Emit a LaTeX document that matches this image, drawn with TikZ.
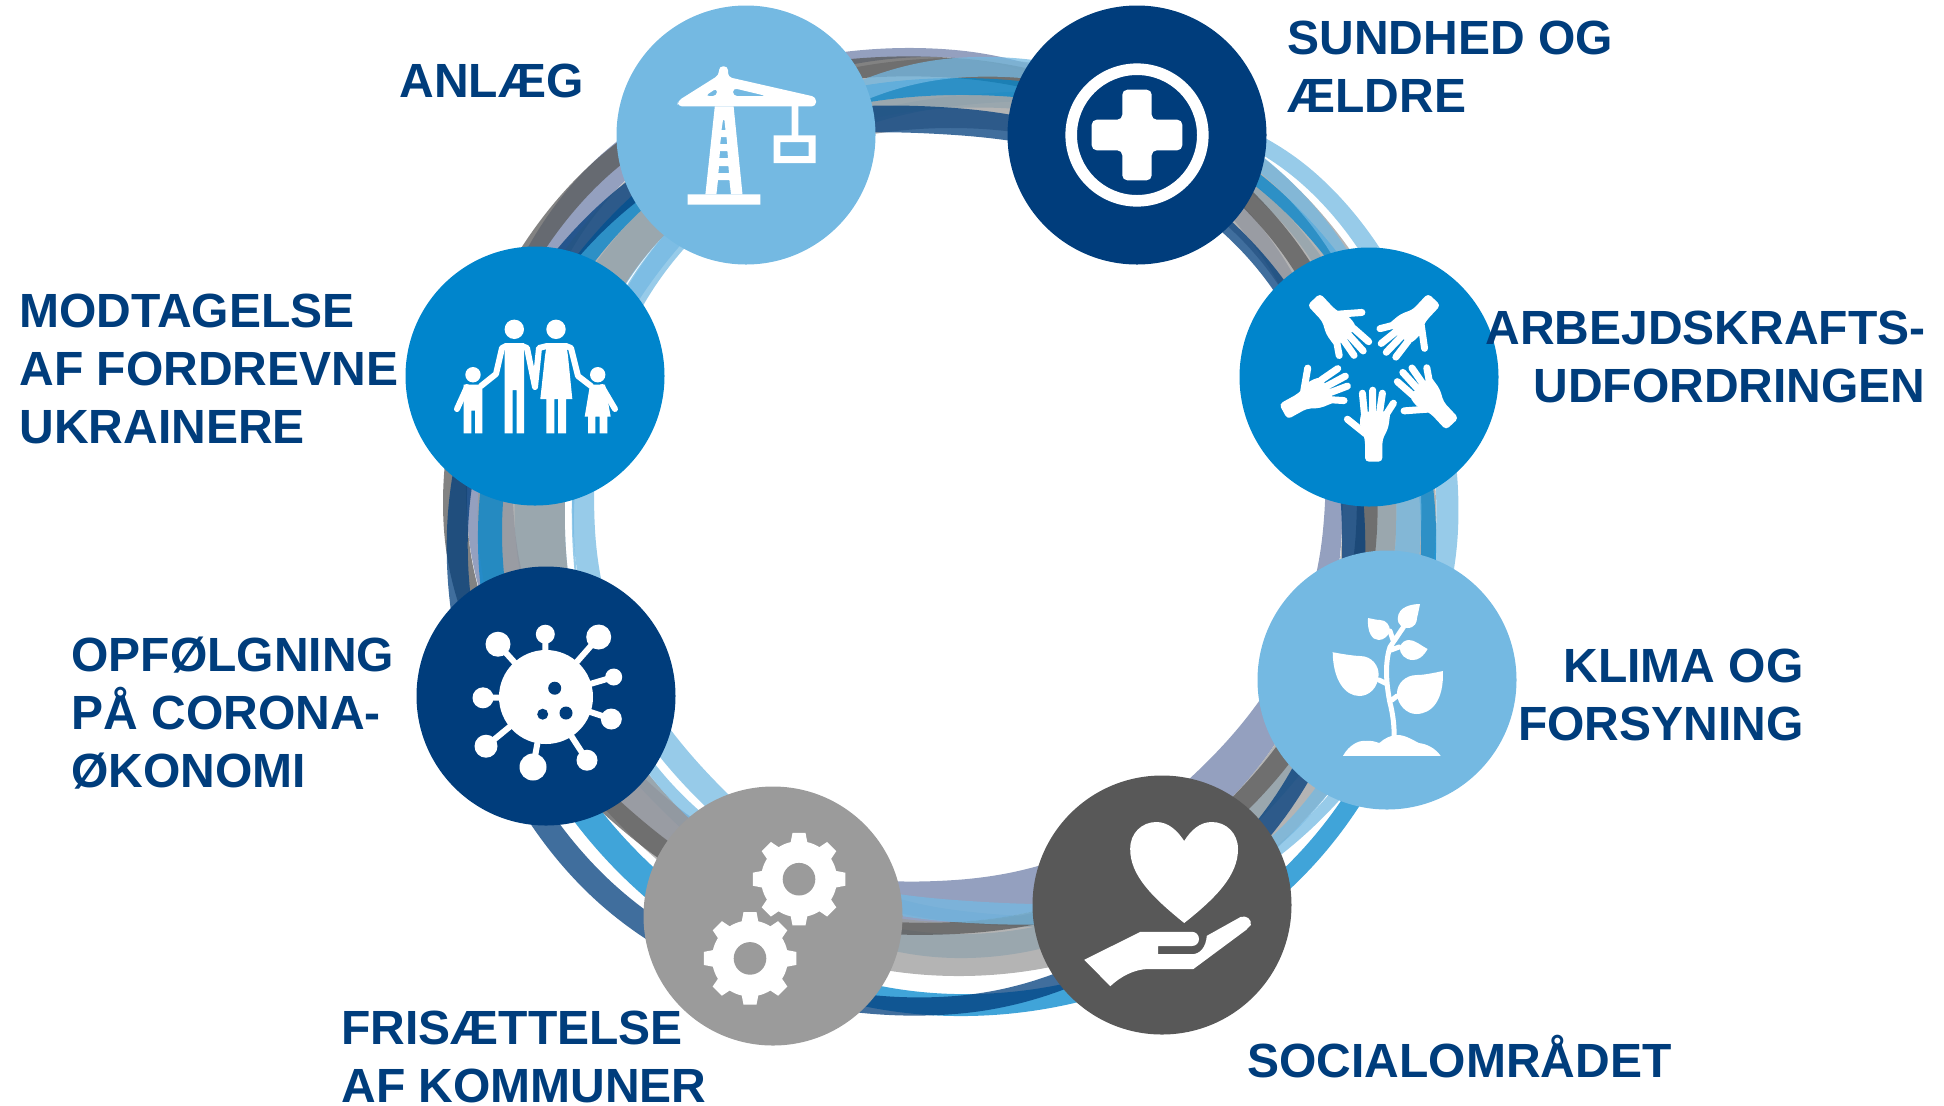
\documentclass[tikz,border=0pt]{standalone}
\usepackage{fontspec}
\setmainfont{Liberation Sans}
\definecolor{navy}{HTML}{003D7C}
\definecolor{midblue}{HTML}{0085CC}
\definecolor{skyblue}{HTML}{74B9E2}
\definecolor{darkgrey}{HTML}{585858}
\definecolor{midgrey}{HTML}{9B9B9B}
\definecolor{dusk}{HTML}{7080A9}
\tikzset{
  hub/.style={circle, minimum size=129.5pt, inner sep=0pt},
  band/.style={fill=#1, fill opacity=.75, even odd rule},
  topic/.style={text=navy, inner sep=0pt, font=\bfseries\fontsize{24}{29}\selectfont},
  iconfill/.style={fill=white, even odd rule},
  iconline/.style={draw=white, line width=3pt, line cap=round, line join=round},
}
\newcommand{\ringband}[3]{
  \fill[band=#1] plot[smooth cycle, tension=.68, samples at={0,...,7}] ({45*\x-90}:{{#2}[\x]})
    plot[smooth cycle, tension=.68, samples at={0,...,7}] ({45*\x-90}:{{#3}[\x]});
}
\newcommand{\gearicon}[2]{
  \begin{scope}[shift={(#1,#2)}]
    \fill[white] (0,0) circle[radius=38];
    \foreach \a in {0,45,...,315}
      \fill[white] (\a-14:36) -- (\a-8:46.7) -- (\a+8:46.7) -- (\a+14:36) -- cycle;
    \fill[midgrey] (0,0) circle[radius=16.3];
  \end{scope}
}
\begin{document}
\begin{tikzpicture}[x=.5pt, y=-.5pt]
  \useasboundingbox (0,0) rectangle (1944,1105);

  % ring of bands: radii at top, NE, E, SE, bottom, SW, W, NW
  \begin{scope}[shift={(955,530)}]
    \ringband{skyblue}{424,490,481,450,380,347,360,390}{434,507,503,460,392,372,382,414}
    \ringband{skyblue}{422,449,422,405,404,392,390,414}{435,458,441,420,428,405,440,448}
    \ringband{dusk}{472,414,368,342,350,392,440,480}{480,431,387,385,392,425,487,516}
    \ringband{midgrey}{402,408,387,385,392,392,390,414}{472,484,481,452,446,445,477,480}
    \ringband{darkgrey}{452,431,401,385,392,425,487,496}{472,449,422,405,404,445,511,516}
    \ringband{midblue}{435,458,466,472,464,452,453,448}{452,470,481,491,486,480,477,465}
    \ringband{navy}{395,400,387,420,466,492,487,458}{422,414,410,440,484,516,508,480}
    \ringband{skyblue}{452,470,441,440,370,380,381,395}{472,484,466,452,392,392,383,414}
  \end{scope}

  \node[hub, fill=skyblue] (anlaeg) at (746,135) {};
  \node[hub, fill=navy] (sundhed) at (1137,135) {};
  \node[hub, fill=midblue] (arbejd) at (1369,377) {};
  \node[hub, fill=skyblue] (klima) at (1387,680) {};
  \node[hub, fill=darkgrey] (social) at (1162,905) {};
  \node[hub, fill=midgrey] (frisat) at (773,916) {};
  \node[hub, fill=navy] (corona) at (546,696) {};
  \node[hub, fill=midblue] (modtag) at (535,376) {};

  \node[topic, anchor=west] (lanlaeg) at (399,81) {ANLÆG};
  \node[topic, anchor=west, align=left] (lsundhed) at (1287,67) {SUNDHED OG\\ÆLDRE};
  \node[topic, anchor=east, align=right] (larbejd) at (1926,357) {ARBEJDSKRAFTS-\\UDFORDRINGEN};
  \node[topic, anchor=east, align=right] (lklima) at (1804,695) {KLIMA OG\\FORSYNING};
  \node[topic, anchor=west] (lsocial) at (1247,1057) {SOCIALOMRÅDET};
  \node[topic, anchor=west, align=left] (lfrisat) at (341,1057) {FRISÆTTELSE\\AF KOMMUNER};
  \node[topic, anchor=west, align=left] (lcorona) at (71,713) {OPFØLGNING\\PÅ CORONA-\\ØKONOMI};
  \node[topic, anchor=west, align=left] (lmodtag) at (19,369) {MODTAGELSE\\AF FORDREVNE\\UKRAINERE};

  % crane
  \begin{scope}[shift={(anlaeg)}]
    \fill[iconfill, rounded corners=2pt] (-68.3,-34) -- (-27,-60) -- (-27,-68.7) -- (-18,-68.7) -- (-18,-58) -- (70,-38)
      -- (70,-28.7) -- (-68.3,-28.7) -- cycle
      (-41,-39) -- (-29,-47) -- (-29,-39) -- cycle (-13,-47) -- (20.5,-39) -- (-13,-39) -- cycle;
    \fill[iconfill] (-31.2,-28.7) -- (-12.4,-28.7) -- (-3.5,59.3) -- (-40.6,59.3) -- cycle
      (-23,-15) -- (-21.6,-15) -- (-20.5,-5) -- (-24.5,-5) -- cycle
      (-25,2) -- (-19.5,2) -- (-18.8,9) -- (-25.8,9) -- cycle
      (-26,16) -- (-18.6,16) -- (-18,23) -- (-26.6,23) -- cycle
      (-27,31) -- (-17.6,31) -- (-17,38) -- (-27.6,38) -- cycle
      (-28,45) -- (-16.6,45) -- (-15,59.3) -- (-29.6,59.3) -- cycle;
    \fill[white] (-58.4,59.3) rectangle (14.3,69.6) (45.6,-29) rectangle (52.3,1);
    \fill[iconfill] (27.7,.3) rectangle (69.7,28) (34.4,7) rectangle (62.5,21);
  \end{scope}

  % medical cross
  \begin{scope}[shift={(sundhed)}]
    \fill[iconfill] (0,0) circle[radius=71.6] (0,0) circle[radius=60];
    \fill[white, rounded corners=2.5pt] (-14.7,-45.3) -- (14.7,-45.3) -- (14.7,-15.3) -- (45.3,-15.3) -- (45.3,15.3) -- (14.7,15.3)
      -- (14.7,45.3) -- (-14.7,45.3) -- (-14.7,15.3) -- (-45.3,15.3) -- (-45.3,-15.3) -- (-14.7,-15.3) -- cycle;
  \end{scope}

  % five hands: wrist position and turn
  \foreach \wx/\wy/\ang in {1373.7/461.7/0, 1452.3/424/43, 1434.3/299.3/137, 1313.7/299.3/223, 1283.3/411.7/299} {
    \begin{scope}[shift={(\wx,\wy)}, rotate=\ang]
      \fill[white, rounded corners=2pt] (-8.7,0) -- (8.7,0) -- (8.7,-22) -- (14.7,-34) -- (16.7,-50) -- (-12.3,-50) -- (-14.3,-38) -- (-8.7,-22) -- cycle;
      \draw[iconline, line width=3.5pt] (-9.3,-48) -- (-11.3,-68.5) (-1.3,-48) -- (-1,-71.5) (5.7,-48) -- (8.7,-68.5) (11.7,-46) -- (19.7,-58.5) (-8.3,-28) -- (-26.3,-42.5);
    \end{scope}
  }

  % plant
  \begin{scope}[shift={(klima)}]
    \fill[white] (-44,75.8) .. controls (-38,65) and (-28,60) .. (-21.8,61) .. controls (-16,60) and (-11,62) .. (-7.7,63)
      .. controls (-2,58) and (4,55) .. (10.7,55) .. controls (18,55) and (26,60) .. (31.8,63)
      .. controls (40,64) and (48,68) .. (53.6,75.8) -- cycle;
    \draw[iconline, line width=2.5pt] (7,60) .. controls (8,40) and (3,23) .. (3,23) .. controls (0,8) and (-3,-15) .. (3,-33) -- (16.5,-53)
      (-8,0) -- (0,4) (10,16) -- (5,20) (12,-33) -- (4,-30) (3,-49) -- (6,-40);
    \fill[white] (-54.3,-27.8) .. controls (-40,-25) and (-30,-24) .. (-27,-24) .. controls (-15,-24) and (-8,-14) .. (-8.4,-5)
      .. controls (-9,8) and (-18,16) .. (-27.6,16) .. controls (-42,16) and (-54,0) .. (-54.3,-27.8);
    \fill[white] (55.9,-9) .. controls (42,-6) and (35,-5) .. (30,-5) .. controls (18,-5) and (10,4) .. (10,13)
      .. controls (10,25) and (20,34) .. (29,34) .. controls (45,34) and (57,20) .. (55.9,-9);
    \fill[white] (-19,-62) .. controls (-14,-61) and (-10,-60) .. (-7,-60) .. controls (-1,-60) and (3,-55) .. (3,-49)
      .. controls (1,-44) and (-3,-40) .. (-8.4,-40) .. controls (-15,-40) and (-20,-48) .. (-19,-62);
    \fill[white] (33,-76) .. controls (26,-76) and (10.7,-74) .. (10.7,-61) .. controls (10.7,-56) and (15,-52) .. (20.3,-52)
      .. controls (28,-52) and (30,-58) .. (30,-62) .. controls (31,-66) and (32,-71) .. (33,-76);
    \fill[white] (40.6,-31) .. controls (36,-23) and (31,-20) .. (26,-20) .. controls (18,-20) and (12.6,-26) .. (12.6,-33)
      .. controls (15,-38) and (18,-40) .. (22,-40) .. controls (28,-40) and (33,-35) .. (40.6,-31);
  \end{scope}

  % heart on a hand
  \begin{scope}[shift={(social)}]
    \fill[white] (22.2,18) .. controls (-10,-8) and (-32,-30) .. (-31.8,-56) .. controls (-32,-72) and (-20,-83) .. (-5.7,-83)
      .. controls (6,-83) and (15,-75) .. (22.2,-64) .. controls (29,-75) and (38,-83) .. (49.8,-83)
      .. controls (64,-83) and (76,-72) .. (76,-56) .. controls (76,-30) and (55,-8) .. (22.2,18);
    \fill[white] (-77.7,54.8) -- (-21.6,26.8) -- (30,26.8) .. controls (34,26.8) and (37,30) .. (37,34) .. controls (37,38) and (34,41) .. (30,41)
      -- (-3.8,41) -- (-3.8,49.2) -- (30,49.2) .. controls (38,49.2) and (44,42) .. (44.8,30.8) -- (78.5,12)
      .. controls (84,10) and (90,14) .. (88.8,20) -- (84,25) -- (31.4,64) -- (-13.4,64) .. controls (-28,64) and (-42,72) .. (-51.7,81.2) -- cycle;
  \end{scope}

  % two gears
  \begin{scope}[shift={(frisat)}]
    \gearicon{26}{-36.8}
    \gearicon{-23}{42.4}
  \end{scope}

  % virus
  \begin{scope}[shift={(corona)}]
    \fill[white] (0,1) circle[radius=47];
    \foreach \bx/\by/\br in {-48/-51.8/12.5, -.7/-61.8/9.5, 52.7/-59/12.5, 67.7/-19/8.5, 65.3/23/10.5, 41/64.2/10.5, -13/71/13.5, -60/50.2/11.5, -63/1.8/10.5} {
      \draw[white, line width=3pt] (0,1) -- (\bx,\by);
      \fill[white] (\bx,\by) circle[radius=\br];
    }
    \fill[navy] (8.7,-7.8) circle[radius=6.5] (20,17) circle[radius=6.5] (-3.3,18.2) circle[radius=5.5];
  \end{scope}

  % family
  \begin{scope}[shift={(modtag)}]
    \fill[white] (-20.7,-46.7) circle[radius=9.7] (21,-46.7) circle[radius=9.7] (-62,-1.3) circle[radius=7.7] (62.7,-1.3) circle[radius=7.7];
    \fill[white] (-30.3,-33) -- (-11,-33) -- (-11,57.3) -- (-18.3,57.3) -- (-18.3,14) -- (-22.3,14) -- (-22.3,57.3) -- (-30.3,57.3) -- cycle;
    \fill[white] (12,-33) -- (31,-33) -- (33,-20) -- (37.3,23) -- (31,23) -- (31,57.3) -- (23,57.3) -- (23,23) -- (19.3,23) -- (19.3,57.3) -- (11.3,57.3) -- (11.3,23) -- (5.3,23) -- (10,-20) -- cycle;
    \fill[white] (-71.3,8.7) -- (-52.7,8.7) -- (-52.7,57.3) -- (-60,57.3) -- (-60,34.7) -- (-63.7,34.7) -- (-63.7,57.3) -- (-71.3,57.3) -- cycle;
    \fill[white] (55,8.7) -- (70,8.7) -- (75.7,40.7) -- (72.3,40.7) -- (72.3,57.3) -- (64.7,57.3) -- (64.7,40.7) -- (60.3,40.7) -- (60.3,57.3) -- (53,57.3) -- (53,40.7) -- (49.7,40.7) -- cycle;
    \draw[iconline] (-29,-30) -- (-33,-28) -- (-39,-2) -- (-54,10) (-13,-30) -- (-8,-28) -- (0,11) (12,-30) -- (4,-28) -- (0,11)
      (31,-30) -- (36,-28) -- (43,0) -- (56,10) (-68,11) -- (-78,33) (67,11) -- (80,33);
  \end{scope}
\end{tikzpicture}
\end{document}
